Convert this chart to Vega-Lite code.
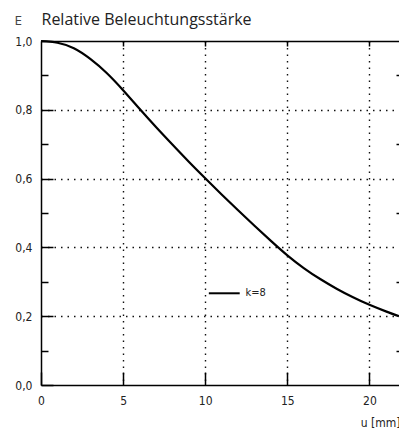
{
  "$schema": "https://vega.github.io/schema/vega-lite/v6.json",
  "width": 358,
  "height": 344,
  "autosize": {"type": "none"},
  "padding": {"left": 41, "top": 41, "right": 0, "bottom": 43},
  "background": "white",
  "config": {
    "view": {"stroke": null},
    "axis": {
      "domainColor": "black",
      "domainWidth": 1.5,
      "tickColor": "black",
      "tickWidth": 1.5,
      "labelColor": "#222",
      "labelFont": "DejaVu Sans Condensed",
      "labelFontSize": 12,
      "gridColor": "#111",
      "gridDash": [1.5, 5],
      "gridWidth": 1.4
    }
  },
  "datasets": {
    "curve": [
      {"u": 0, "E": 1.0},
      {"u": 1, "E": 0.995},
      {"u": 2, "E": 0.979},
      {"u": 3, "E": 0.948},
      {"u": 4, "E": 0.907},
      {"u": 5, "E": 0.857},
      {"u": 6, "E": 0.803},
      {"u": 7, "E": 0.750},
      {"u": 8, "E": 0.699},
      {"u": 9, "E": 0.649},
      {"u": 10, "E": 0.601},
      {"u": 11, "E": 0.554},
      {"u": 12, "E": 0.508},
      {"u": 13, "E": 0.463},
      {"u": 14, "E": 0.419},
      {"u": 15, "E": 0.377},
      {"u": 16, "E": 0.340},
      {"u": 17, "E": 0.308},
      {"u": 18, "E": 0.280},
      {"u": 19, "E": 0.255},
      {"u": 20, "E": 0.233},
      {"u": 21, "E": 0.214},
      {"u": 21.8, "E": 0.200}
    ],
    "legendline": [
      {"u": 10.22, "E": 0.2666},
      {"u": 12.1, "E": 0.2666}
    ],
    "legendtext": [
      {"u": 12.45, "E": 0.2666, "label": "k=8"}
    ]
  },
  "layer": [
    {
      "data": {"name": "curve"},
      "mark": {"type": "line", "color": "black", "strokeWidth": 2.2, "interpolate": "natural"},
      "encoding": {
        "x": {
          "field": "u",
          "type": "quantitative",
          "scale": {"domain": [0, 21.8], "nice": false, "zero": false},
          "axis": {
            "orient": "bottom",
            "values": [0, 5, 10, 15, 20],
            "tickSize": -13,
            "labelPadding": 23,
            "labelFlush": false,
            "grid": true,
            "gridOpacity": {"condition": {"test": "datum.value == 0", "value": 0}, "value": 1},
            "title": "u [mm]",
            "titleFont": "DejaVu Sans Condensed",
            "titleFontSize": 12,
            "titleFontWeight": "normal",
            "titleColor": "#222",
            "titleAlign": "right",
            "titleBaseline": "alphabetic",
            "titleX": 359,
            "titleY": 41
          }
        },
        "y": {
          "field": "E",
          "type": "quantitative",
          "scale": {"domain": [0, 1], "nice": false, "zero": false},
          "axis": {
            "orient": "left",
            "values": [0, 0.1, 0.2, 0.3, 0.4, 0.5, 0.6, 0.7, 0.8, 0.9, 1.0],
            "tickSize": {"condition": {"test": "round(datum.value*10) % 2 == 1", "value": -7}, "value": -12},
            "labelPadding": 21,
            "labelFlush": false,
            "labelExpr": "round(datum.value*10) % 2 == 1 ? '' : replace(format(datum.value, '.1f'), '.', ',')",
            "grid": true,
            "gridOpacity": {"condition": {"test": "round(datum.value*10) % 2 == 1 || datum.value == 0 || datum.value == 1", "value": 0}, "value": 1},
            "title": "E",
            "titleAngle": 0,
            "titleFont": "Open Sans",
            "titleFontSize": 13.5,
            "titleFontWeight": "normal",
            "titleColor": "#444",
            "titleAlign": "left",
            "titleBaseline": "alphabetic",
            "titleX": -27,
            "titleY": -17
          }
        }
      }
    },
    {
      "data": {"name": "legendline"},
      "mark": {"type": "line", "color": "black", "strokeWidth": 2},
      "encoding": {
        "x": {"field": "u", "type": "quantitative", "axis": null},
        "y": {"field": "E", "type": "quantitative", "axis": null}
      }
    },
    {
      "data": {"name": "legendtext"},
      "mark": {"type": "text", "align": "left", "baseline": "middle", "font": "DejaVu Sans Condensed", "fontSize": 11, "color": "#222"},
      "encoding": {
        "x": {"field": "u", "type": "quantitative", "axis": null},
        "y": {"field": "E", "type": "quantitative", "axis": null},
        "text": {"field": "label"}
      }
    },
    {
      "data": {"name": "legendline"},
      "mark": {"type": "point", "opacity": 0},
      "encoding": {
        "x": {
          "field": "u",
          "type": "quantitative",
          "axis": {
            "orient": "top",
            "values": [5, 10, 15, 20],
            "tickSize": -5,
            "labels": false,
            "grid": false,
            "domain": true,
            "title": "Relative Beleuchtungsstärke",
            "titleFont": "Open Sans",
            "titleFontSize": 16,
            "titleFontWeight": "normal",
            "titleColor": "#222",
            "titleAlign": "left",
            "titleBaseline": "alphabetic",
            "titleX": 0,
            "titleY": -17
          }
        },
        "y": {
          "field": "E",
          "type": "quantitative",
          "axis": {
            "orient": "right",
            "values": [0.1, 0.3, 0.5, 0.7, 0.9],
            "tickSize": -3,
            "labels": false,
            "grid": false,
            "domain": false,
            "title": null
          }
        }
      }
    }
  ],
  "resolve": {"axis": {"x": "independent", "y": "independent"}}
}
